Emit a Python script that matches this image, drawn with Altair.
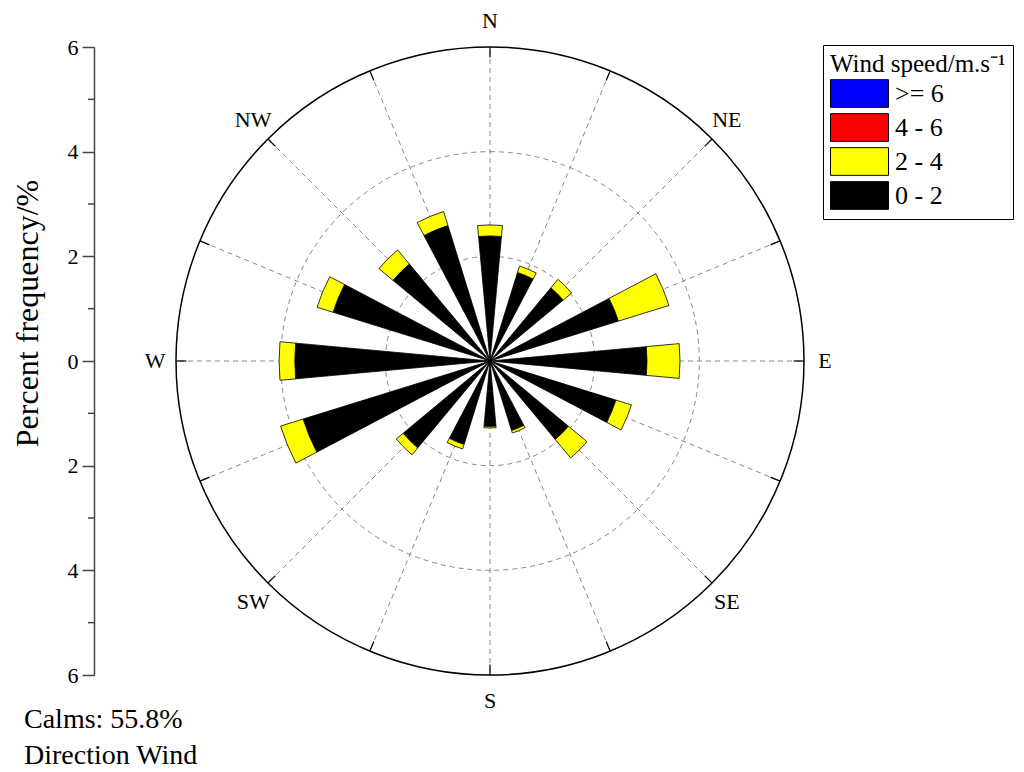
import altair as alt
import numpy as np
import pandas as pd

# ---------------- data ----------------
DIRECTIONS = ["N", "NNE", "NE", "ENE", "E", "ESE", "SE", "SSE",
              "S", "SSW", "SW", "WSW", "W", "WNW", "NW", "NNW"]
ANGLES = [0, 22.5, 45, 67.5, 90, 112.5, 135, 157.5,
          180, 202.5, 225, 247.5, 270, 292.5, 315, 337.5]
# percent frequency of wind speed 0-2 m/s per direction
FREQ_0_2 = [2.39, 1.77, 1.82, 2.57, 3.00, 2.52, 1.95, 1.39,
            1.25, 1.67, 2.16, 3.74, 3.73, 3.14, 2.41, 2.71]
# percent frequency of wind speed 2-4 m/s per direction
FREQ_2_4 = [0.21, 0.13, 0.21, 1.01, 0.63, 0.31, 0.46, 0.05,
            0.03, 0.09, 0.17, 0.45, 0.30, 0.32, 0.35, 0.28]
SPEED_BINS = [">= 6", "4 - 6", "2 - 4", "0 - 2"]
SPEED_COLORS = ["#0000ff", "#ff0000", "#ffff00", "#000000"]
COMPASS_LABELS = ["N", "NE", "E", "SE", "S", "SW", "W", "NW"]
COMPASS_ANGLES = [0, 45, 90, 135, 180, 225, 270, 315]
GRID_RADII = [2, 4]
MAX_R = 6
AXIS_TICKS = [-6, -4, -2, 0, 2, 4, 6]
AXIS_MINOR = [-5, -3, -1, 1, 3, 5]
CALMS = 55.8
HALF_WIDTH = 5.25  # degrees, half angular width of a petal

# ---------------- tables ----------------
rows = []
for d, a, lo, mid in zip(DIRECTIONS, ANGLES, FREQ_0_2, FREQ_2_4):
    rows.append(dict(dir=d, speed="0 - 2", t0=a - HALF_WIDTH, t1=a + HALF_WIDTH, r0=0.0, r1=lo))
    rows.append(dict(dir=d, speed="2 - 4", t0=a - HALF_WIDTH, t1=a + HALF_WIDTH, r0=lo, r1=lo + mid))
bars = pd.DataFrame(rows)

rad = np.radians(ANGLES)
rays = pd.DataFrame({"x": 0.0, "y": 0.0,
                     "x2": MAX_R * np.sin(rad), "y2": MAX_R * np.cos(rad)})
ticks = pd.DataFrame({"x": (MAX_R - 0.2) * np.sin(rad), "y": (MAX_R - 0.2) * np.cos(rad),
                      "x2": MAX_R * np.sin(rad), "y2": MAX_R * np.cos(rad)})
grid_rings = pd.DataFrame({"r": GRID_RADII, "t0": 0, "t1": 360})
outer_ring = pd.DataFrame({"r": [MAX_R], "t0": [0], "t1": [360]})
crad = np.radians(COMPASS_ANGLES)
labels = pd.DataFrame({"label": COMPASS_LABELS,
                       "x": 6.4 * np.sin(crad), "y": 6.5 * np.cos(crad)})
minor = pd.DataFrame({"y": AXIS_MINOR})
notes = pd.DataFrame({"t": [f"Calms: {CALMS}%\nDirection Wind"]})

# ---------------- scales ----------------
W, H = 920, 628
K = H / 12.0
CX = 396
xs = alt.Scale(domain=[-CX / K, (W - CX) / K], nice=False, zero=False)
ys = alt.Scale(domain=[-6, 6], nice=False, zero=False)
ts = alt.Scale(domain=[0, 360], range=[0, 2 * np.pi], zero=False, nice=False)
rs = alt.Scale(type="linear", domain=[0, MAX_R], range=[0, MAX_R * K], zero=True, nice=False)

FONT = "Liberation Serif"
yaxis = alt.Axis(values=AXIS_TICKS, labelExpr="abs(datum.value)", title="Percent frequency/%",
                 grid=False, domainColor="#444", domainWidth=1.5, tickColor="#444", tickWidth=1.5,
                 tickSize=12, labelFont=FONT, labelFontSize=22, labelColor="black", labelPadding=4,
                 titleFont=FONT, titleFontSize=32, titleFontWeight="normal", titleColor="black",
                 titleX=-67, titleY=266, titleAngle=270, titleAlign="center", titleBaseline="middle")

cx = alt.XDatum(0, type="quantitative", scale=xs, axis=None)
cy = alt.YDatum(0, type="quantitative", scale=ys, axis=yaxis)

ray_layer = alt.Chart(rays).mark_rule(color="#888", strokeDash=[5, 4], strokeWidth=1).encode(
    x=alt.X("x:Q", scale=xs, axis=None), y=alt.Y("y:Q", scale=ys, axis=yaxis),
    x2="x2:Q", y2="y2:Q")

tick_layer = alt.Chart(ticks).mark_rule(color="black", strokeWidth=1.2).encode(
    x=alt.X("x:Q", scale=xs, axis=None), y=alt.Y("y:Q", scale=ys, axis=yaxis),
    x2="x2:Q", y2="y2:Q")

grid_layer = alt.Chart(grid_rings).mark_arc(fillOpacity=0, stroke="#888", strokeDash=[5, 4],
                                            strokeWidth=1).encode(
    x=cx, y=cy,
    theta=alt.Theta("t0:Q", scale=ts, stack=None), theta2="t1:Q",
    radius=alt.Radius("r:Q", scale=rs, stack=None))

outer_layer = alt.Chart(outer_ring).mark_arc(fillOpacity=0, stroke="black", strokeWidth=1.5).encode(
    x=cx, y=cy,
    theta=alt.Theta("t0:Q", scale=ts, stack=None), theta2="t1:Q",
    radius=alt.Radius("r:Q", scale=rs, stack=None))

legend = alt.Legend(title="Wind speed/m.s⁻¹", orient="none", legendX=729, legendY=-2,
                    strokeColor="black", padding=7, titleFont=FONT, titleFontSize=25,
                    titleFontWeight="normal", titleColor="black", titlePadding=2,
                    labelFont=FONT, labelFontSize=26, labelColor="black",
                    symbolType="M-2.094,-1H2.094V1H-2.094Z", symbolSize=767,
                    symbolOffset=15, labelOffset=21,
                    symbolStrokeColor="black", symbolStrokeWidth=1, symbolOpacity=1,
                    rowPadding=1)

bar_layer = alt.Chart(bars).mark_arc(stroke="black", strokeWidth=0.8).encode(
    x=cx, y=cy,
    theta=alt.Theta("t0:Q", scale=ts, stack=None), theta2="t1:Q",
    radius=alt.Radius("r1:Q", scale=rs, stack=None), radius2="r0:Q",
    color=alt.Color("speed:N", scale=alt.Scale(domain=SPEED_BINS, range=SPEED_COLORS),
                    legend=legend))

minor_layer = alt.Chart(minor).mark_rule(color="#444", strokeWidth=1.5).encode(
    y=alt.Y("y:Q", scale=ys, axis=yaxis), x=alt.value(-6), x2=alt.value(0))

label_layer = alt.Chart(labels).mark_text(font=FONT, fontSize=22, color="black",
                                          align="center", baseline="middle").encode(
    x=alt.X("x:Q", scale=xs, axis=None), y=alt.Y("y:Q", scale=ys, axis=yaxis),
    text="label:N")

note_layer = alt.Chart(notes).mark_text(font=FONT, fontSize=28, color="black", align="left",
                                        baseline="alphabetic", lineBreak="\n",
                                        lineHeight=36).encode(
    x=alt.value(-70), y=alt.value(681), text="t:N")

chart = alt.layer(ray_layer, grid_layer, tick_layer, outer_layer, bar_layer,
                  minor_layer, label_layer, note_layer).properties(
    width=W, height=H, autosize="none",
    padding={"left": 86, "top": 39, "right": 2, "bottom": 97},
).configure_view(stroke=None).configure_axis(
    labelFont=FONT, titleFont=FONT
).configure_legend(labelFont=FONT, titleFont=FONT)

chart.save("out.html", embed_options={"renderer": "svg", "actions": False})
